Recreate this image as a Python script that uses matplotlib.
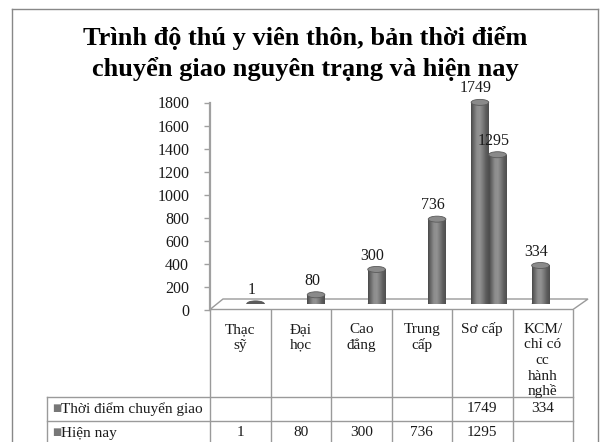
import matplotlib
matplotlib.use('Agg')
import matplotlib.pyplot as plt
import numpy as np
from matplotlib.patches import Ellipse, Polygon, Rectangle
from matplotlib.colors import LinearSegmentedColormap
from matplotlib.lines import Line2D
from matplotlib.transforms import Affine2D

# ---------------- data ----------------
categories = ["Thạc\nsỹ", "Đại\nhọc", "Cao\nđẳng", "Trung\ncấp", "Sơ cấp",
              "KCM/\nchỉ có\ncc\nhành\nnghề"]
series_names = ["Thời điểm chuyển giao", "Hiện nay"]
values_transfer = [None, None, None, None, 1749, 334]
values_now = [1, 80, 300, 736, 1295, None]
y_ticks = [0, 200, 400, 600, 800, 1000, 1200, 1400, 1600, 1800]
title_lines = ["Trình độ thú y viên thôn, bản thời điểm",
               "chuyển giao nguyên trạng và hiện nay"]

# ---------------- layout ----------------
W, H = 602, 442
fig = plt.figure(figsize=(W / 100, H / 100), dpi=100)
fig.patch.set_facecolor('white')
pix = Affine2D().scale(1 / W, -1 / H).translate(0, 1) + fig.transFigure

SERIF = ['Liberation Serif', 'DejaVu Serif']
TXT = '#1a1a1a'
LINE = '#9a9a9a'

X0, X1 = 210, 573          # plot / table columns
Y0, Y1 = 310, 102.5        # value 0 and value 1800 (front plane)
DX, DY = 6.5, 6            # depth shift for the bar plane
ncat = len(categories)
colw = (X1 - X0) / ncat

# outer border
for (xa, ya, xb, yb) in [(12, 9, 598, 9), (12, 9, 12, 450), (598, 9, 598, 450)]:
    fig.add_artist(Line2D([xa, xb], [ya, yb], transform=pix, color='#888888', lw=1))

# title
fig.text(305 / W, 1 - 38 / H, title_lines[0], ha='center', va='center',
         fontsize=19, fontweight='bold', family=SERIF, color='black')
fig.text(305 / W, 1 - 69 / H, title_lines[1], ha='center', va='center',
         fontsize=19, fontweight='bold', family=SERIF, color='black')

# axis with ticks (front plane)
ax = fig.add_axes([X0 / W, 1 - Y0 / H, (X1 - X0) / W, (Y0 - Y1) / H])
ax.set_xlim(-0.5, ncat - 0.5)
ax.set_ylim(0, 1800)
ax.patch.set_visible(False)
for s in ['top', 'right', 'bottom']:
    ax.spines[s].set_visible(False)
ax.spines['left'].set_color('#a0a0a0')
ax.spines['left'].set_linewidth(1.6)
ax.set_xticks([])
ax.set_yticks(y_ticks)
ax.tick_params(axis='y', direction='out', length=4, width=1, color='#a0a0a0',
               labelsize=11.5, labelcolor=TXT, pad=11)
for lab in ax.get_yticklabels():
    lab.set_family(SERIF)

# floor
floor = Polygon([(X0, 309.5), (X1, 309.5), (X1 + 15, 299), (X0 + 13, 299)],
                closed=True, transform=pix, facecolor='white', edgecolor=LINE,
                lw=1, clip_on=False, zorder=0)
ax.add_patch(floor)

# bar plane
ax2 = fig.add_axes([(X0 + DX) / W, 1 - (Y0 - DY) / H, (X1 - X0) / W, (Y0 - Y1) / H])
ax2.set_xlim(-0.5, ncat - 0.5)
ax2.set_ylim(0, 1800)
ax2.axis('off')
ax2.patch.set_visible(False)

bw = 17.6 / colw
ell_h = 6 * 1800 / (Y0 - Y1)
cyl = LinearSegmentedColormap.from_list(
    'cyl', ['#4a4a4a', '#6e6e6e', '#8e8e8e', '#929292', '#7a7a7a', '#5e5e5e', '#4e4e4e'])
grad = np.linspace(0, 1, 64).reshape(1, -1)

x = np.arange(ncat)
for si, vals in enumerate([values_transfer, values_now]):
    off = (-0.5 + si) * bw
    for i, v in enumerate(vals):
        if v is None:
            continue
        xc = x[i] + off
        bars = ax2.bar(xc, v, bw, color='#707070', zorder=2, linewidth=0)
        rect = bars[0]
        im = ax2.imshow(grad, extent=(xc - bw / 2, xc + bw / 2, 0, v), cmap=cyl,
                        aspect='auto', zorder=2.1, interpolation='bilinear')
        im.set_clip_path(rect)
        ax2.add_patch(Ellipse((xc, 0), bw, ell_h, facecolor='#5a5a5a',
                              edgecolor='none', zorder=1.9))
        top_fc = '#5c5c5c' if v < 20 else '#8a8a8a'
        ax2.add_patch(Ellipse((xc, v), bw, ell_h, facecolor=top_fc,
                              edgecolor='#5a5a5a', lw=0.6, zorder=3))
        ax2.annotate(str(v), (xc, v), xytext=(-3, 10), textcoords='offset points',
                     ha='center', va='center', fontsize=11.5, family=SERIF, color=TXT,
                     zorder=4)
ax2.set_xlim(-0.5, ncat - 0.5)
ax2.set_ylim(0, 1800)

# data table
ROW1, ROW2, TB = 396.5, 420.5, 446
TL = 47
for k in range(ncat + 1):
    xk = X0 + k * colw
    fig.add_artist(Line2D([xk, xk], [309.5, TB], transform=pix, color=LINE, lw=1))
for yy in (ROW1, ROW2):
    fig.add_artist(Line2D([TL, X1], [yy, yy], transform=pix, color=LINE, lw=1))
fig.add_artist(Line2D([TL, TL], [ROW1, TB], transform=pix, color=LINE, lw=1))

for i, c in enumerate(categories):
    cx = X0 + (i + 0.5) * colw
    for j, line in enumerate(c.split('\n')):
        fig.text(cx / W, 1 - (333 + 15.5 * j) / H, line, ha='center',
                 va='baseline', fontsize=11, family=SERIF, color=TXT)

row_y = [409, 433]
for si, (name, vals) in enumerate(zip(series_names, [values_transfer, values_now])):
    yy = row_y[si]
    fig.text(52 / W, 1 - (yy - 1) / H, "■", ha='left', va='center', fontsize=7,
             family=['DejaVu Sans'], color='#777777')
    fig.text(61 / W, 1 - yy / H, name, ha='left', va='center', fontsize=11,
             family=SERIF, color=TXT)
    for i, v in enumerate(vals):
        if v is None:
            continue
        cx = X0 + (i + 0.5) * colw
        fig.text(cx / W, 1 - yy / H, str(v), ha='center', va='center', fontsize=11,
                 family=SERIF, color=TXT)

fig.savefig('out.png', dpi=100, facecolor='white')
